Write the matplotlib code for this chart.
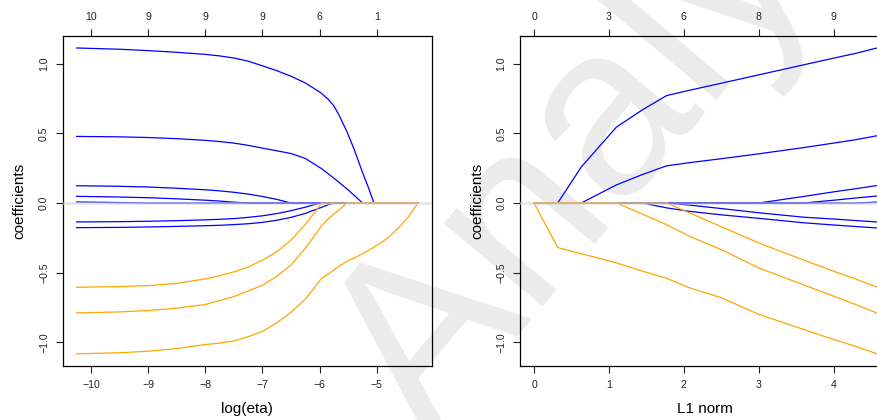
import matplotlib
matplotlib.use("Agg")
import matplotlib.pyplot as plt

plt.rcParams['font.family'] = ['Liberation Sans', 'DejaVu Sans']

# ---- left panel: coefficient paths against log(eta) ----
log_eta = [-10.25, -9.5, -9.0, -8.5, -8.0, -7.75, -7.5, -7.25, -7.0, -6.75, -6.5, -6.25,
           -6.0, -5.97, -5.85, -5.75, -5.65, -5.52, -5.4, -5.25, -5.15, -5.05, -4.9,
           -4.75, -4.6, -4.45, -4.28]
eta_b1 = [1.113, 1.104, 1.094, 1.082, 1.067, 1.056, 1.041, 1.018, 0.985, 0.95, 0.91, 0.862,
          0.797, 0.788, 0.745, 0.697, 0.622, 0.51, 0.39, 0.22, 0.115, 0] + [0] * 5
eta_b2 = [0.478, 0.475, 0.47, 0.462, 0.45, 0.441, 0.43, 0.414, 0.394, 0.375, 0.355, 0.32,
          0.255, 0.248, 0.21, 0.178, 0.145, 0.1, 0.057, 0] + [0] * 7
eta_b3 = [0.124, 0.12, 0.115, 0.106, 0.095, 0.087, 0.077, 0.064, 0.047, 0.026, 0] + [0] * 16
eta_b4 = [0.048, 0.043, 0.038, 0.03, 0.02, 0.014, 0.006, 0] + [0] * 19
eta_b5 = [0.007, 0.003, 0] + [0] * 24
eta_b6 = [-0.136, -0.134, -0.131, -0.127, -0.121, -0.117, -0.112, -0.103, -0.092, -0.076,
          -0.055, -0.03, 0] + [0] * 14
eta_b7 = [-0.177, -0.175, -0.172, -0.168, -0.163, -0.16, -0.155, -0.149, -0.139, -0.124,
          -0.103, -0.075, -0.036, -0.032, -0.012, 0] + [0] * 11
eta_o1 = [-0.605, -0.6, -0.593, -0.577, -0.545, -0.522, -0.495, -0.46, -0.41, -0.35,
          -0.265, -0.155, -0.02, 0] + [0] * 13
eta_o2 = [-0.789, -0.782, -0.772, -0.755, -0.729, -0.70, -0.672, -0.632, -0.59, -0.527,
          -0.445, -0.325, -0.185, -0.165, -0.115, -0.08, -0.047, 0] + [0] * 9
eta_o3 = [-1.083, -1.075, -1.064, -1.045, -1.016, -1.006, -0.99, -0.96, -0.922, -0.86,
          -0.785, -0.69, -0.56, -0.543, -0.51, -0.48, -0.452, -0.418, -0.395, -0.365,
          -0.342, -0.318, -0.278, -0.23, -0.17, -0.1, 0]
eta_ticks = [-10, -9, -8, -7, -6, -5]
eta_top = ['10', '9', '9', '9', '6', '1']

# ---- right panel: coefficient paths against L1 norm ----
l1 = [0, 0.316, 0.63, 1.1, 1.45, 1.77, 2.08, 2.5, 3.0, 3.6, 4.0, 4.3, 4.57]
l1_b1 = [0, 0, 0.258, 0.545, 0.67, 0.771, 0.81, 0.86, 0.92, 0.992, 1.04, 1.075, 1.112]
l1_b2 = [0, 0, 0, 0.13, 0.205, 0.267, 0.29, 0.318, 0.353, 0.398, 0.43, 0.455, 0.482]
l1_b3 = [0, 0, 0, 0, 0, 0, 0, 0, 0, 0.047, 0.08, 0.103, 0.125]
l1_b4 = [0, 0, 0, 0, 0, 0, 0, 0, 0, 0, 0.02, 0.036, 0.05]
l1_b5 = [0, 0, 0, 0, 0, 0, 0, 0, 0, 0, 0, 0, 0.006]
l1_b6 = [0, 0, 0, 0, 0, 0, -0.015, -0.04, -0.07, -0.102, -0.115, -0.126, -0.136]
l1_b7 = [0, 0, 0, 0, 0, -0.035, -0.06, -0.085, -0.11, -0.142, -0.158, -0.169, -0.179]
l1_o1 = [0, 0, 0, 0, 0, 0, -0.072, -0.17, -0.287, -0.41, -0.49, -0.547, -0.602]
l1_o2 = [0, 0, 0, 0, -0.08, -0.156, -0.24, -0.335, -0.466, -0.588, -0.669, -0.73, -0.789]
l1_o3 = [0, -0.32, -0.364, -0.43, -0.49, -0.54, -0.61, -0.68, -0.8, -0.908, -0.98, -1.03, -1.081]
l1_ticks = [0, 1, 2, 3, 4]
l1_top = ['0', '3', '6', '8', '9']

y_ticks = [-1.0, -0.5, 0.0, 0.5, 1.0]
y_labels = ['\u22121.0', '\u22120.5', '0.0', '0.5', '1.0']

blue = '#0000ff'
orange = '#ffa500'

fig = plt.figure(figsize=(8.77, 4.2), dpi=100)

# faint watermark behind the plots
fig.text(0.335, -0.01, 'Analytics', rotation=50, fontsize=175, color='#ebebeb',
         ha='left', va='baseline', zorder=-1)


def panel(ax, x, blues, oranges, xlim, ticks, top_labels, xlabel):
    ax.set_facecolor('none')
    for ys in blues:
        ax.plot(x, ys, color=blue, lw=0.9, zorder=3)
    for ys in oranges:
        ax.plot(x, ys, color=orange, lw=0.9, zorder=3)
    ax.axhline(0, color='#d3d3d3', lw=2.0, alpha=0.55, zorder=4)
    ax.set_xlim(*xlim)
    ax.set_ylim(-1.168, 1.199)
    ax.set_xticks(ticks, labels=[str(t).replace('-', '\u2212') for t in ticks])
    ax.set_yticks(y_ticks, labels=y_labels)
    for lab in ax.get_yticklabels():
        lab.set_rotation(90)
        lab.set_va('center')
    ax.tick_params(length=5, width=0.8, labelsize=7.6, pad=5, colors='#222222')
    top = ax.secondary_xaxis('top')
    top.set_xticks(ticks, labels=top_labels)
    top.tick_params(length=5, width=0.8, labelsize=7.6, pad=5, colors='#222222')
    top.spines['top'].set_visible(False)
    for s in ax.spines.values():
        s.set_linewidth(0.9)
    ax.set_xlabel(xlabel, fontsize=11, labelpad=9)
    ax.set_ylabel('coefficients', fontsize=11, labelpad=9)


ax1 = fig.add_axes([0.0718, 0.1293, 0.4204, 0.785])
panel(ax1, log_eta,
      [eta_b1, eta_b2, eta_b3, eta_b4, eta_b5, eta_b6, eta_b7],
      [eta_o1, eta_o2, eta_o3],
      (-10.49, -4.04), eta_ticks, eta_top, 'log(eta)')

ax2 = fig.add_axes([0.5933, 0.1293, 0.4216, 0.785])
panel(ax2, l1,
      [l1_b1, l1_b2, l1_b3, l1_b4, l1_b5, l1_b6, l1_b7],
      [l1_o1, l1_o2, l1_o3],
      (-0.183, 4.753), l1_ticks, l1_top, 'L1 norm')

fig.savefig('out.png', dpi=100)
